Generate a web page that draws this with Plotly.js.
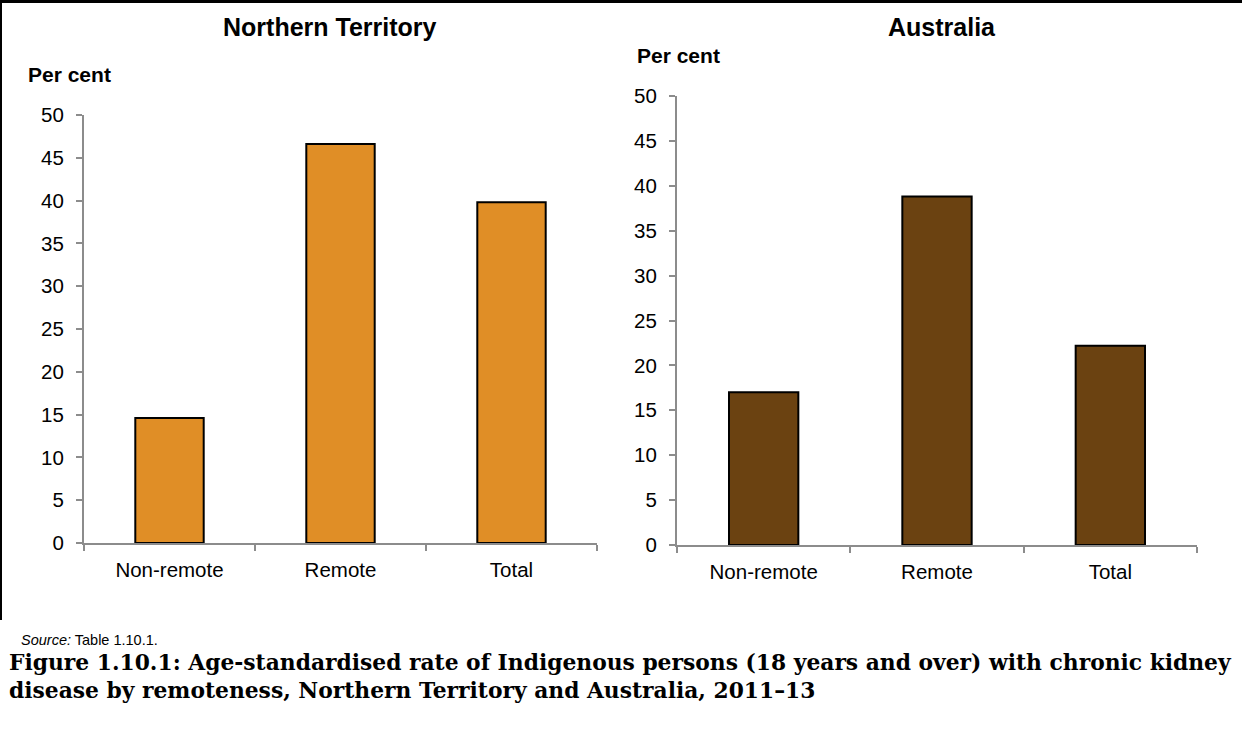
<!DOCTYPE html>
<html>
<head>
<meta charset="utf-8">
<script src="https://cdn.plot.ly/plotly-3.0.1.min.js"></script>
<style>html,body{margin:0;padding:0;background:#fff;}#chart{width:1242px;height:738px;}</style>
</head>
<body>
<div id="chart"></div>
<script>
const categories = ["Non-remote", "Remote", "Total"];
const ntValues = [14.6, 46.6, 39.8];
const ausValues = [17.0, 38.8, 22.2];
const yTicks = [0, 5, 10, 15, 20, 25, 30, 35, 40, 45, 50];
const panelTitles = ["Northern Territory", "Australia"];
const yLabel = "Per cent";
const sourceText = "<i>Source:</i> Table 1.10.1.";
const captionText = "Figure 1.10.1: Age-standardised rate of Indigenous persons (18 years and over) with chronic kidney<br>disease by remoteness, Northern Territory and Australia, 2011\u201313";

const W = 1242, H = 738;
const axisColor = "#8c8c8c";
const tickFont = {family: "Liberation Sans, Arial, sans-serif", size: 20.5, color: "#000"};

const traces = [
  {type: "bar", x: categories, y: ntValues, xaxis: "x", yaxis: "y", width: 0.4,
   marker: {color: "#E08E26", line: {color: "#000", width: 2}}, hoverinfo: "x+y"},
  {type: "bar", x: categories, y: ausValues, xaxis: "x2", yaxis: "y2", width: 0.4,
   marker: {color: "#6B4211", line: {color: "#000", width: 2}}, hoverinfo: "x+y"}
];

function xa(domain, anchor) {
  return {domain: domain, anchor: anchor, type: "category", showline: true, linecolor: axisColor, linewidth: 2,
    ticks: "outside", tickson: "boundaries", ticklen: 6, tickcolor: axisColor, tickwidth: 2,
    tickfont: tickFont, showgrid: false, zeroline: false, fixedrange: true, ticklabelstandoff: 7};
}
function ya(domain, anchor) {
  return {domain: domain, anchor: anchor, range: [0, 50], tickvals: yTicks, showline: true, linecolor: axisColor, linewidth: 2,
    ticks: "outside", ticklen: 6, tickcolor: axisColor, tickwidth: 2, tickfont: tickFont,
    showgrid: false, zeroline: false, fixedrange: true, ticklabelstandoff: 8};
}

const layout = {
  width: W, height: H,
  margin: {l: 0, r: 0, t: 0, b: 0},
  paper_bgcolor: "#fff", plot_bgcolor: "#fff",
  showlegend: false, bargap: 0.6,
  xaxis: xa([84 / W, 597 / W], "y"),
  yaxis: ya([1 - 543 / H, 1 - 115 / H], "x"),
  xaxis2: xa([677 / W, 1197 / W], "y2"),
  yaxis2: ya([1 - 545 / H, 1 - 96 / H], "x2"),
  shapes: [
    {type: "line", xref: "paper", yref: "paper", x0: 0, x1: 1, y0: 1 - 1.5 / H, y1: 1 - 1.5 / H, line: {color: "#000", width: 3}},
    {type: "line", xref: "paper", yref: "paper", x0: 1 / W, x1: 1 / W, y0: 1, y1: 1 - 620 / H, line: {color: "#000", width: 2}}
  ],
  annotations: [
    {text: "<b>" + panelTitles[0] + "</b>", xref: "paper", yref: "paper", x: 330 / W, y: 1 - 27 / H, xanchor: "center", yanchor: "middle", showarrow: false,
     font: {family: "Liberation Sans, Arial, sans-serif", size: 25, color: "#000"}},
    {text: "<b>" + panelTitles[1] + "</b>", xref: "paper", yref: "paper", x: 942 / W, y: 1 - 27 / H, xanchor: "center", yanchor: "middle", showarrow: false,
     font: {family: "Liberation Sans, Arial, sans-serif", size: 25, color: "#000"}},
    {text: "<b>" + yLabel + "</b>", xref: "paper", yref: "paper", x: 26 / W, y: 1 - 75 / H, xanchor: "left", yanchor: "middle", showarrow: false,
     font: {family: "Liberation Sans, Arial, sans-serif", size: 21, color: "#000"}},
    {text: "<b>" + yLabel + "</b>", xref: "paper", yref: "paper", x: 635 / W, y: 1 - 56 / H, xanchor: "left", yanchor: "middle", showarrow: false,
     font: {family: "Liberation Sans, Arial, sans-serif", size: 21, color: "#000"}},
    {text: sourceText, xref: "paper", yref: "paper", x: 19 / W, y: 1 - 640 / H, xanchor: "left", yanchor: "middle", showarrow: false,
     font: {family: "Liberation Sans, Arial, sans-serif", size: 14.5, color: "#000"}},
    {text: "<b>" + captionText + "</b>", xref: "paper", yref: "paper", x: 7 / W, y: 1 - 676 / H, xanchor: "left", yanchor: "middle", align: "left", showarrow: false,
     font: {family: "DejaVu Serif, serif", size: 21.8, color: "#000"}}
  ]
};

Plotly.newPlot("chart", traces, layout, {displayModeBar: false, staticPlot: true});
</script>
</body>
</html>
